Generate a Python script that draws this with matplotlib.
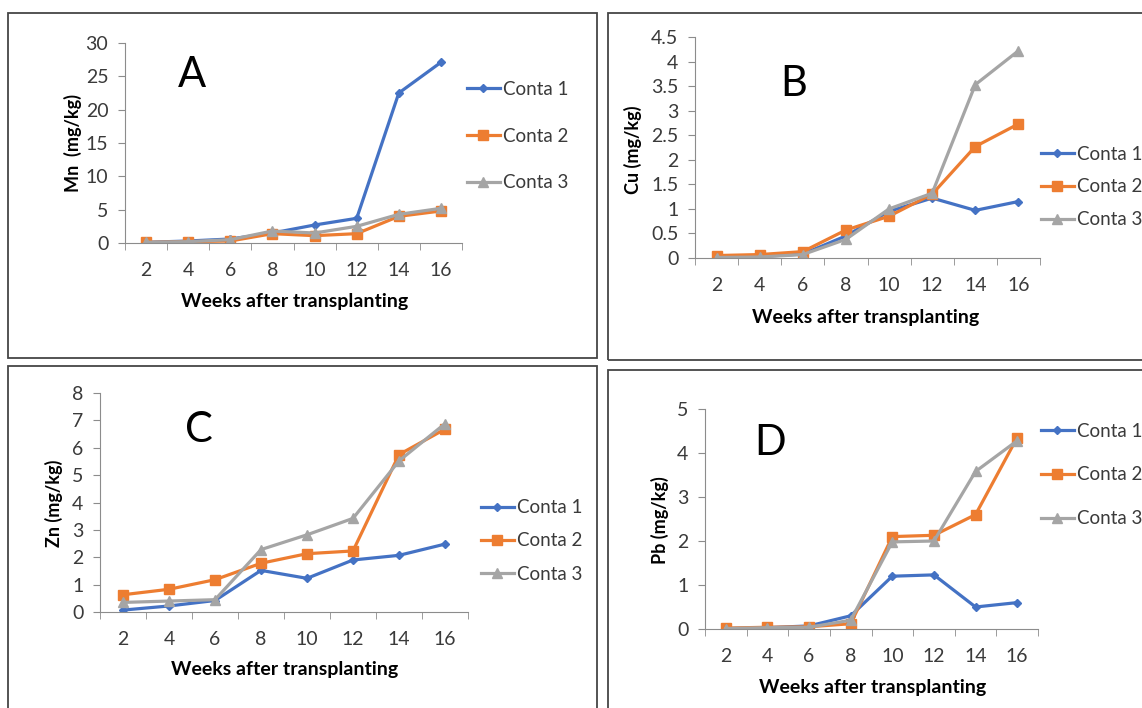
import numpy as np
import matplotlib.pyplot as plt
from matplotlib.patches import Rectangle
from matplotlib.ticker import FuncFormatter

plt.rcParams['font.family'] = ['Lato', 'DejaVu Sans']

weeks = [2, 4, 6, 8, 10, 12, 14, 16]
series_names = ['Conta 1', 'Conta 2', 'Conta 3']

mn_c1 = [0.1, 0.3, 0.6, 1.5, 2.7, 3.7, 22.5, 27.1]
mn_c2 = [0.1, 0.2, 0.3, 1.4, 1.1, 1.4, 4.0, 4.8]
mn_c3 = [0.1, 0.2, 0.5, 1.8, 1.5, 2.5, 4.3, 5.2]

cu_c1 = [0.02, 0.03, 0.08, 0.45, 0.95, 1.22, 0.97, 1.15]
cu_c2 = [0.05, 0.07, 0.13, 0.57, 0.85, 1.30, 2.27, 2.73]
cu_c3 = [0.01, 0.02, 0.07, 0.38, 1.00, 1.32, 3.53, 4.22]

zn_c1 = [0.07, 0.22, 0.42, 1.52, 1.23, 1.90, 2.07, 2.48]
zn_c2 = [0.63, 0.83, 1.18, 1.78, 2.13, 2.23, 5.75, 6.68]
zn_c3 = [0.35, 0.40, 0.45, 2.28, 2.82, 3.42, 5.52, 6.88]

pb_c1 = [0.01, 0.03, 0.07, 0.30, 1.20, 1.23, 0.50, 0.60]
pb_c2 = [0.02, 0.04, 0.05, 0.12, 2.10, 2.13, 2.60, 4.35]
pb_c3 = [0.01, 0.03, 0.04, 0.20, 1.98, 2.00, 3.58, 4.28]

W, H = 1142, 708
colors = ['#4472C4', '#ED7D31', '#A5A5A5']
markers = ['D', 's', '^']
msizes = [4.5, 7, 6.5]


def fx(px):
  return px / W


def fy(py):
  return 1 - py / H


def draw_panel(fig, box, ax_px, data, ymax, ystep, ylabel, letter, letter_xy,
               ylab_xy, xlab_xy, leg_xy, leg_space):
  # panel border
  x0, y0, x1, y1 = box
  fig.patches.append(Rectangle((fx(x0), fy(y1)), fx(x1 - x0), (y1 - y0) / H,
                               transform=fig.transFigure, fill=False,
                               edgecolor='#454545', linewidth=1.3))
  l, t, r, b = ax_px
  ax = fig.add_axes([fx(l), fy(b), fx(r - l), (b - t) / H])
  pos = np.arange(len(weeks))
  for vals, name, c, m, ms in zip(data, series_names, colors, markers, msizes):
    ax.plot(pos, vals, color=c, marker=m, markersize=ms, linewidth=2.3, label=name)
  ax.set_xlim(-0.5, len(weeks) - 0.5)
  ax.set_ylim(0, ymax)
  ax.set_yticks(np.arange(0, ymax + ystep / 2, ystep))
  ax.yaxis.set_major_formatter(FuncFormatter(lambda v, p: '%g' % round(v, 2)))
  ax.set_xticks(pos)
  ax.set_xticklabels([str(w) for w in weeks])
  ax.set_xticks(np.arange(-0.5, len(weeks)), minor=True)
  ax.tick_params(axis='x', which='major', length=0, pad=14, labelsize=14, labelcolor='#3a3a3a')
  ax.tick_params(axis='x', which='minor', length=5, color='#8c8c8c', direction='out')
  ax.tick_params(axis='y', length=5, color='#8c8c8c', labelsize=14, labelcolor='#3a3a3a', pad=7)
  for s in ['top', 'right']:
    ax.spines[s].set_visible(False)
  for s in ['left', 'bottom']:
    ax.spines[s].set_color('#8c8c8c')
  ax.set_facecolor('none')
  fig.text(fx(letter_xy[0]), fy(letter_xy[1]), letter, fontsize=30,
           ha='center', va='center', color='black')
  fig.text(fx(ylab_xy[0]), fy(ylab_xy[1]), ylabel, rotation=90, fontsize=13,
           fontweight='bold', ha='center', va='center')
  fig.text(fx(xlab_xy[0]), fy(xlab_xy[1]), 'Weeks after transplanting', fontsize=14,
           fontweight='bold', ha='center', va='center')
  ax.legend(loc='center left', bbox_to_anchor=(fx(leg_xy[0]), fy(leg_xy[1])),
            bbox_transform=fig.transFigure, frameon=False, fontsize=13.5,
            labelspacing=leg_space, handlelength=1.75, handletextpad=0.15,
            borderpad=0, borderaxespad=0, labelcolor='#3a3a3a')
  return ax


fig = plt.figure(figsize=(W / 100, H / 100), dpi=100)

draw_panel(fig, (8, 13, 597, 358), (125, 43, 462, 243), [mn_c1, mn_c2, mn_c3],
           30, 5, 'Mn  (mg/kg)', 'A', (192, 75), (73, 143), (295, 302), (467, 136), 1.59)
draw_panel(fig, (608, 13, 1150, 360), (695, 37, 1040, 258), [cu_c1, cu_c2, cu_c3],
           4.5, 0.5, 'Cu (mg/kg)', 'B', (794, 84), (633, 150), (866, 317), (1041, 187), 0.84)
draw_panel(fig, (8, 366, 597, 716), (100, 393, 468, 612), [zn_c1, zn_c2, zn_c3],
           8, 1, 'Zn (mg/kg)', 'C', (199, 430), (54, 503), (285, 670), (481, 541), 0.87)
draw_panel(fig, (608, 370, 1150, 716), (705, 409, 1038, 629), [pb_c1, pb_c2, pb_c3],
           5, 1, 'Pb (mg/kg)', 'D', (770, 443), (660, 520), (873, 688), (1041, 475), 1.43)

fig.savefig('out.png', dpi=100)
